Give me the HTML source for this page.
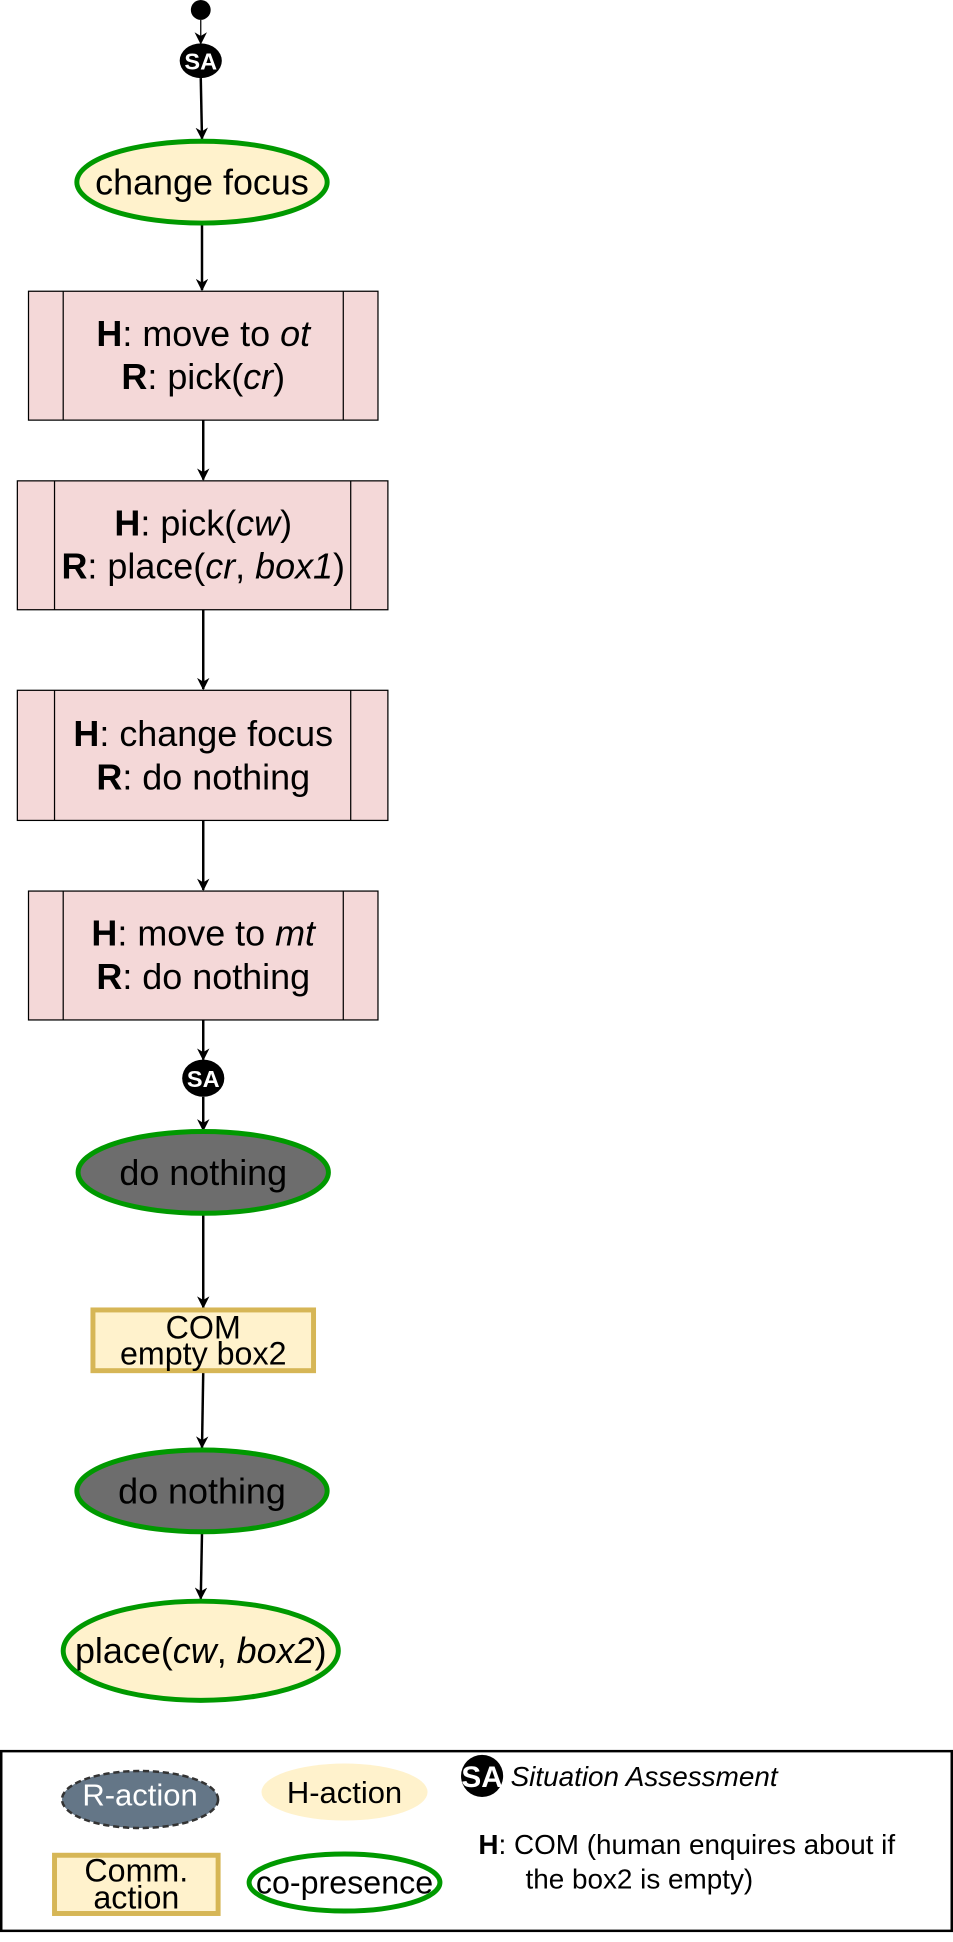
<!DOCTYPE html>
<html><head><meta charset="utf-8"><style>html,body{margin:0;padding:0;background:#fff}svg{display:block}text{font-family:"Liberation Sans",sans-serif}</style></head><body>
<svg width="953" height="1942" viewBox="0 0 769 1567" preserveAspectRatio="none" xmlns="http://www.w3.org/2000/svg">
<defs><marker id="a" markerWidth="10" markerHeight="10" refX="9" refY="5" orient="auto" markerUnits="userSpaceOnUse"><path d="M0,0 L10,5 L0,10 L3,5 Z" fill="#000"/></marker></defs>
<g stroke="#000" stroke-width="2" fill="none" marker-end="url(#a)">
<line x1="162" y1="16" x2="162" y2="35" stroke-width="1"/>
<line x1="162" y1="63" x2="163" y2="112"/>
<line x1="163" y1="181" x2="163" y2="234"/>
<line x1="164" y1="339" x2="164" y2="387"/>
<line x1="164" y1="492" x2="164" y2="556"/>
<line x1="164" y1="662" x2="164" y2="718"/>
<line x1="164" y1="823" x2="164" y2="855"/>
<line x1="164" y1="885" x2="164" y2="912"/>
<line x1="164" y1="980" x2="164" y2="1055"/>
<line x1="164" y1="1107" x2="163" y2="1168"/>
<line x1="163" y1="1237" x2="162" y2="1290"/>
</g>
<circle cx="162" cy="8" r="8" fill="#000"/>
<ellipse cx="162" cy="49" rx="17" ry="14" fill="#000"/>
<text x="162" y="56" font-size="19" font-weight="bold" fill="#fff" text-anchor="middle">SA</text>
<ellipse cx="163" cy="147" rx="101" ry="33" fill="#fff2cc" stroke="#009900" stroke-width="4"/>
<text x="163" y="157" font-size="29" text-anchor="middle">change focus</text>
<g fill="#f4d8d8" stroke="#000" stroke-width="1">
<rect x="23" y="235" width="282" height="104"/><line x1="51" y1="235" x2="51" y2="339"/><line x1="277" y1="235" x2="277" y2="339"/>
<rect x="14" y="388" width="299" height="104"/><line x1="44" y1="388" x2="44" y2="492"/><line x1="283" y1="388" x2="283" y2="492"/>
<rect x="14" y="557" width="299" height="105"/><line x1="44" y1="557" x2="44" y2="662"/><line x1="283" y1="557" x2="283" y2="662"/>
<rect x="23" y="719" width="282" height="104"/><line x1="51" y1="719" x2="51" y2="823"/><line x1="277" y1="719" x2="277" y2="823"/>
</g>
<g font-size="29" text-anchor="middle">
<text x="164" y="279"><tspan font-weight="bold">H</tspan>: move to <tspan font-style="italic">ot</tspan></text>
<text x="164" y="314"><tspan font-weight="bold">R</tspan>: pick(<tspan font-style="italic">cr</tspan>)</text>
<text x="164" y="432"><tspan font-weight="bold">H</tspan>: pick(<tspan font-style="italic">cw</tspan>)</text>
<text x="164" y="467"><tspan font-weight="bold">R</tspan>: place(<tspan font-style="italic">cr</tspan>, <tspan font-style="italic">box1</tspan>)</text>
<text x="164" y="602"><tspan font-weight="bold">H</tspan>: change focus</text>
<text x="164" y="637"><tspan font-weight="bold">R</tspan>: do nothing</text>
<text x="164" y="763"><tspan font-weight="bold">H</tspan>: move to <tspan font-style="italic">mt</tspan></text>
<text x="164" y="798"><tspan font-weight="bold">R</tspan>: do nothing</text>
</g>
<ellipse cx="164" cy="870" rx="17" ry="15" fill="#000"/>
<text x="164" y="877" font-size="19" font-weight="bold" fill="#fff" text-anchor="middle">SA</text>
<ellipse cx="164" cy="946" rx="101" ry="33" fill="#6d6d6d" stroke="#009900" stroke-width="4"/>
<text x="164" y="956" font-size="29" text-anchor="middle">do nothing</text>
<rect x="75" y="1057" width="178" height="49" fill="#fff2cc" stroke="#d6b656" stroke-width="4"/>
<text x="164" y="1080" font-size="26" text-anchor="middle">COM</text>
<text x="164" y="1101" font-size="26" text-anchor="middle">empty box2</text>
<ellipse cx="163" cy="1203" rx="101" ry="33" fill="#6d6d6d" stroke="#009900" stroke-width="4"/>
<text x="163" y="1213" font-size="29" text-anchor="middle">do nothing</text>
<ellipse cx="162" cy="1332" rx="111" ry="40" fill="#fff2cc" stroke="#009900" stroke-width="4"/>
<text x="162" y="1342" font-size="29" text-anchor="middle">place(<tspan font-style="italic">cw</tspan>, <tspan font-style="italic">box2</tspan>)</text>
<rect x="1" y="1413" width="767" height="145" fill="#fff" stroke="#000" stroke-width="2"/>
<ellipse cx="113" cy="1452" rx="63" ry="23" fill="#647687" stroke="#333" stroke-width="2" stroke-dasharray="5,3"/>
<text x="113" y="1457" font-size="25" fill="#fff" text-anchor="middle">R-action</text>
<ellipse cx="278" cy="1446" rx="67" ry="23" fill="#fff2cc"/>
<text x="278" y="1455" font-size="25" text-anchor="middle">H-action</text>
<circle cx="389" cy="1433" r="17" fill="#000"/>
<text x="389" y="1442" font-size="24" font-weight="bold" fill="#fff" text-anchor="middle">SA</text>
<text x="412" y="1441" font-size="22.5" font-style="italic">Situation Assessment</text>
<rect x="44" y="1497" width="132" height="47" fill="#fff2cc" stroke="#d6b656" stroke-width="4"/>
<text x="110" y="1518" font-size="26" text-anchor="middle">Comm.</text>
<text x="110" y="1540" font-size="26" text-anchor="middle">action</text>
<ellipse cx="278" cy="1519" rx="77" ry="23" fill="#fff" stroke="#009900" stroke-width="4"/>
<text x="278" y="1528" font-size="26" text-anchor="middle">co-presence</text>
<text x="386" y="1496" font-size="22.5"><tspan font-weight="bold">H</tspan>: COM (human enquires about if</text>
<text x="424" y="1524" font-size="22.5">the box2 is empty)</text>
</svg>
</body></html>
